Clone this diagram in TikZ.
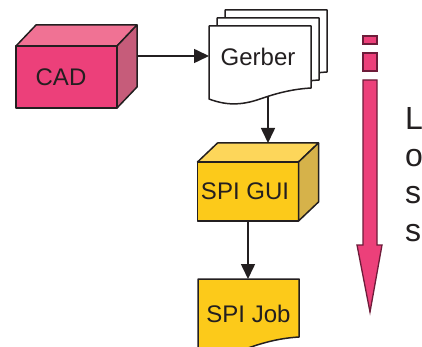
\documentclass[tikz,border=0pt]{standalone}
\usepackage{fontspec}
\setmainfont{Liberation Sans}
\usetikzlibrary{arrows.meta}
\definecolor{edge}{RGB}{35,31,32}
\definecolor{cadfront}{RGB}{236,64,122}
\definecolor{cadtop}{RGB}{240,114,148}
\definecolor{cadside}{RGB}{198,92,122}
\definecolor{spifront}{RGB}{252,202,26}
\definecolor{spitop}{RGB}{253,214,90}
\definecolor{spiside}{RGB}{214,178,74}
\definecolor{lossedge}{RGB}{110,28,58}
\begin{document}
\begin{tikzpicture}[x=1pt,y=-1pt]
\tikzstyle{every node}+=[inner sep=0pt,outer sep=0pt]
\tikzstyle{face}=[draw=edge,line width=1.5pt,line join=round]
\tikzstyle{label}=[font=\fontsize{24}{28}\selectfont,text=edge]
\tikzstyle{link}=[draw=edge,line width=1.6pt,-{Triangle[length=15pt,width=14pt]}]
\tikzstyle{lossbar}=[draw=lossedge,fill=cadfront,line width=1.3pt]
\useasboundingbox (0,0) rectangle (422,347);
% CAD block
\node [face,label,fill=cadfront,minimum width=101pt,minimum height=62pt] (cad) at (66.5,77) {\hspace*{-11pt}CAD};
\filldraw [face,fill=cadtop] (cad.north west) -- ++(20,-21) -- ++(101,0) -- (cad.north east) -- cycle;
\filldraw [face,fill=cadside] (cad.north east) -- ++(20,-21) -- ++(0,62) -- (cad.south east) -- cycle;
\coordinate (cadback) at (137,56);
% Gerber pages
\foreach \d in {16,8,0}
  \filldraw [face,fill=white,xshift=\d pt,yshift=\d pt] (209,26) -- (311,26) -- (311,88)
    .. controls (295,89) and (280,92) .. (260,99)
    .. controls (240,106) and (225,105) .. (209,99) -- cycle;
\node [label,minimum width=102pt,minimum height=62pt] (gerber) at (260,57) {\hspace*{-4pt}Gerber};
\coordinate (gerberfoot) at (268,97);
% SPI GUI block
\node [face,label,fill=spifront,minimum width=101pt,minimum height=59pt] (spigui) at (248,191.5) {\hspace*{-6pt}SPI GUI};
\filldraw [face,fill=spitop] (spigui.north west) -- ++(20,-19) -- ++(101,0) -- (spigui.north east) -- cycle;
\filldraw [face,fill=spiside] (spigui.north east) -- ++(20,-19) -- ++(0,59) -- (spigui.south east) -- cycle;
\coordinate (guitop) at (268,143);
% SPI Job document
\filldraw [face,fill=spifront] (198,279) -- (299,279) -- (299,337)
  .. controls (283,338) and (268,341) .. (248,348)
  .. controls (228,355) and (213,354) .. (198,348) -- cycle;
\node [label,minimum width=101pt,minimum height=69pt] (spijob) at (248.5,313.5) {SPI Job};
% connectors
\draw [link] (cadback) -- (cadback -| gerber.west);
\draw [link] (gerberfoot) -- (guitop);
\draw [link] (spigui.south) -- (spigui.south |- spijob.north);
% loss arrow
\filldraw [lossbar] (363,36) rectangle (377,44);
\filldraw [lossbar] (363,53) rectangle (377,71);
\filldraw [lossbar,line join=miter] (363,80) -- (377,80) -- (377,245) -- (382,245) -- (370,312) -- (357,245) -- (363,245) -- cycle;
\foreach \i/\c in {0/L,1/o,2/s,3/s}
  \node [anchor=base west,font=\fontsize{32}{37}\selectfont,text=edge] (loss\i) at (405,130+37*\i) {\c};
\end{tikzpicture}
\end{document}
